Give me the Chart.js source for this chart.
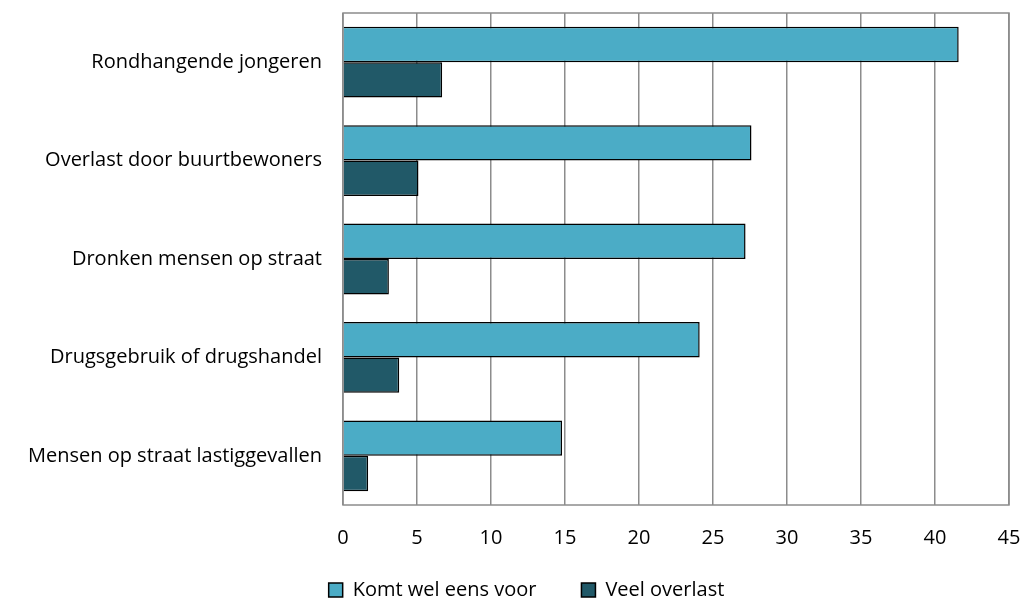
<!DOCTYPE html>
<html>
<head>
<meta charset="utf-8">
<script src="https://cdn.jsdelivr.net/npm/chart.js@4"></script>
<style>
  body { margin: 0; background: #fff; }
  #wrap { width: 1026px; height: 599px; }
</style>
</head>
<body>
<div id="wrap"><canvas id="chart"></canvas></div>
<script>
const categories = [
  "Rondhangende jongeren",
  "Overlast door buurtbewoners",
  "Dronken mensen op straat",
  "Drugsgebruik of drugshandel",
  "Mensen op straat lastiggevallen"
];
const komtWelEensVoor = [41.6, 27.6, 27.2, 24.1, 14.8];
const veelOverlast = [6.7, 5.1, 3.1, 3.8, 1.7];
const xTicks = [0, 5, 10, 15, 20, 25, 30, 35, 40, 45];

const FONT = "'Open Sans', sans-serif";
const GRID = "#8c8c8c";

// grey frame round the plot area
const frame = {
  id: "frame",
  beforeDatasetsDraw(chart) {
    const a = chart.chartArea, c = chart.ctx;
    c.save();
    c.strokeStyle = GRID;
    c.lineWidth = 1.5;
    c.strokeRect(a.left, a.top, a.right - a.left, a.bottom - a.top);
    c.restore();
  }
};

// legend in the original sits a bit right of centre
const legendShift = {
  id: "legendShift",
  afterLayout(chart) {
    chart.legend.left += 22;
    chart.legend.right += 22;
  }
};

function noPad(axis) {
  axis.paddingTop = 0;
  axis.paddingBottom = 0;
  axis.paddingLeft = 0;
  axis.paddingRight = 0;
}

new Chart(document.getElementById("chart"), {
  type: "bar",
  data: {
    labels: categories,
    datasets: [
      { label: "Komt wel eens voor", data: komtWelEensVoor,
        backgroundColor: "#4BACC6", borderColor: "#000", borderWidth: 1.5 },
      { label: "Veel overlast", data: veelOverlast,
        backgroundColor: "#215968", borderColor: "#000", borderWidth: 1.5 }
    ]
  },
  options: {
    indexAxis: "y",
    responsive: true,
    maintainAspectRatio: false,
    animation: false,
    events: [],
    datasets: { bar: { barPercentage: 1, categoryPercentage: 0.72 } },
    layout: { padding: { top: 13, right: 17, left: 0, bottom: -11 } },
    scales: {
      x: {
        min: 0, max: 45,
        afterBuildTicks(axis) { axis.ticks = xTicks.map(v => ({ value: v })); },
        afterFit(axis) {
          axis.height = 30;
          noPad(axis);
          // axis box is short, so don't clip the tick labels to it
          axis._computeLabelArea = () => undefined;
        },
        grid: { color: GRID, lineWidth: 1.5, drawTicks: false },
        border: { display: false },
        ticks: { padding: 21, color: "#000", font: { family: FONT, size: 20 } }
      },
      y: {
        afterFit(axis) { axis.width = 343; noPad(axis); },
        grid: { display: false, drawTicks: false },
        border: { display: false },
        ticks: { padding: 21, color: "#000", font: { family: FONT, size: 20 } }
      }
    },
    plugins: {
      legend: {
        position: "bottom",
        labels: {
          color: "#000",
          font: { family: FONT, size: 20 },
          boxWidth: 14, boxHeight: 14,
          padding: 45
        }
      },
      tooltip: { enabled: false }
    }
  },
  plugins: [frame, legendShift]
});
</script>
</body>
</html>
